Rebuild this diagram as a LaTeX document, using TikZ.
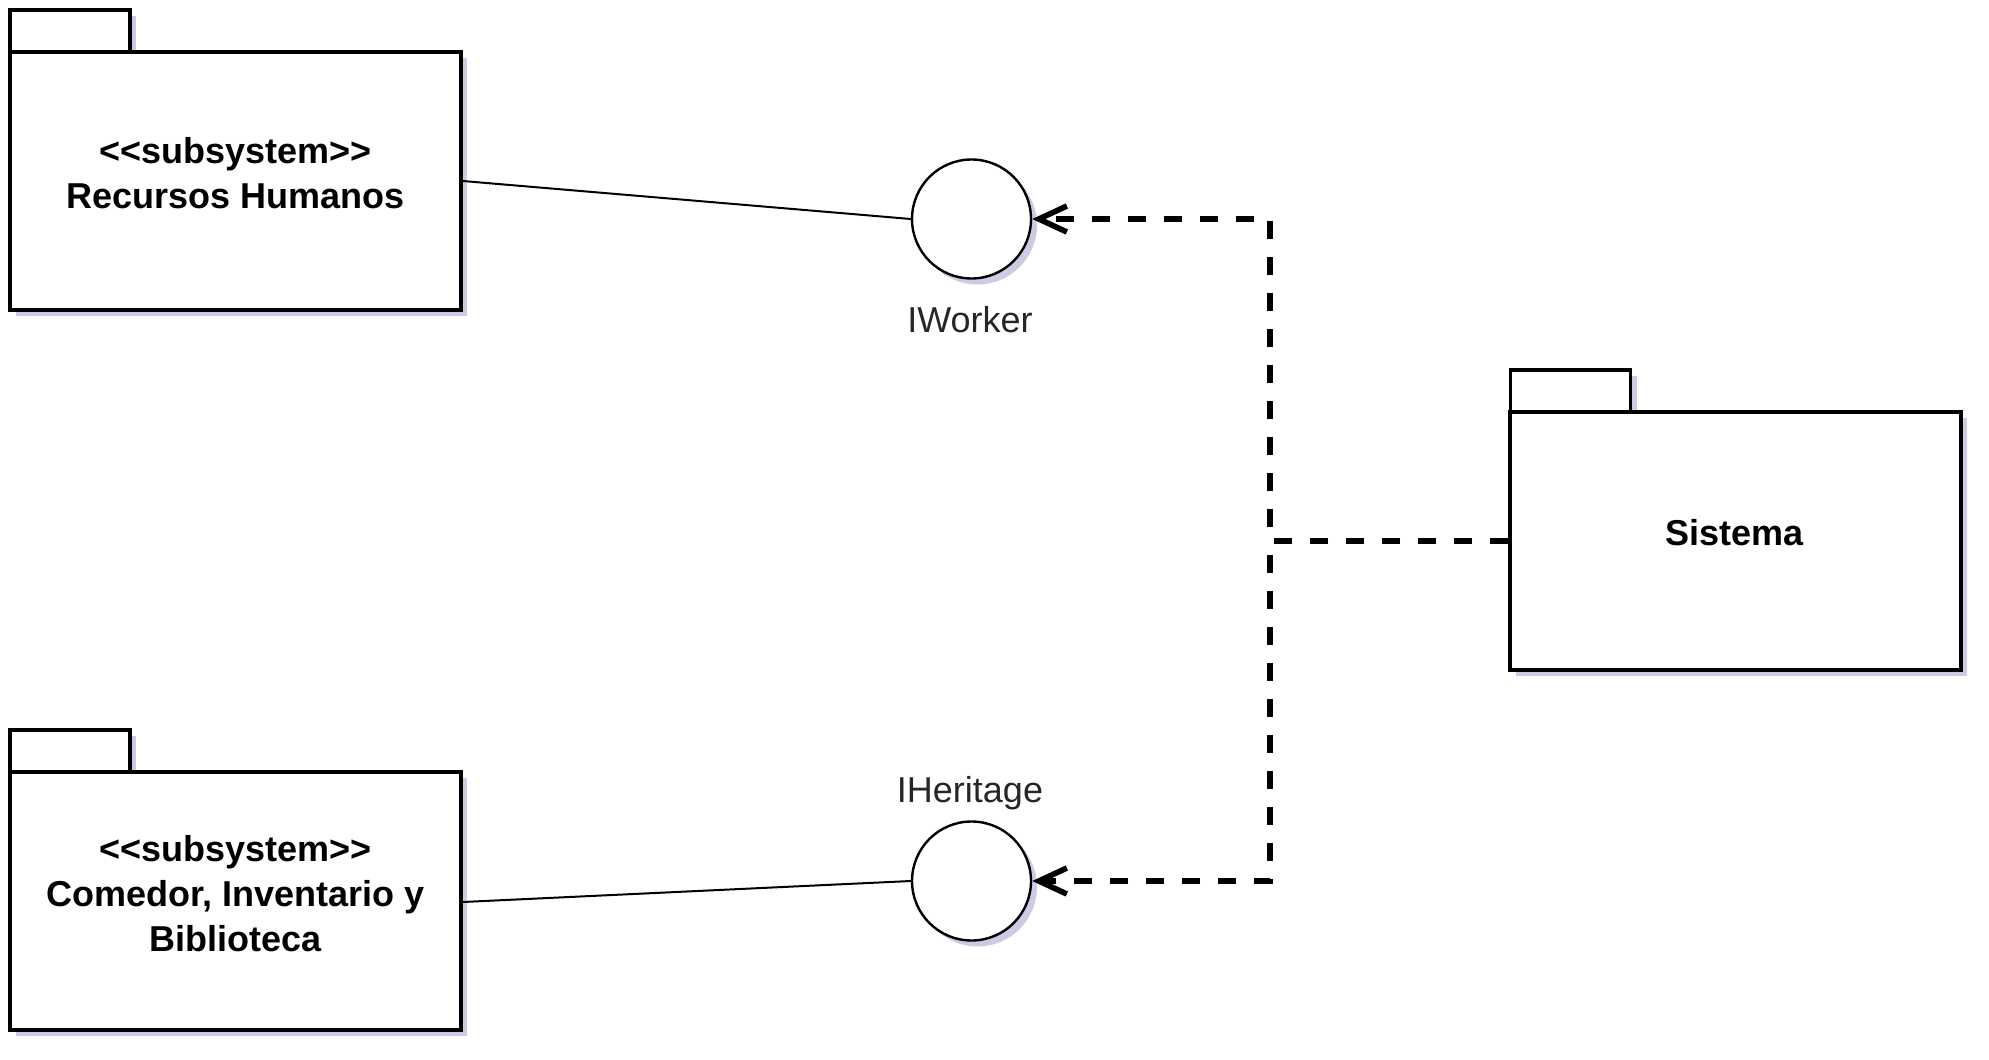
\documentclass[tikz,border=0pt]{standalone}
\usepackage{fontspec}
\setmainfont{Liberation Sans}
\usetikzlibrary{arrows.meta,shadows}
\begin{document}
\begin{tikzpicture}[x=0.5pt,y=-0.5pt,
  shd/.style={drop shadow={shadow xshift=3pt,shadow yshift=-3pt,fill=blue!35!gray,opacity=0.3}},
  pkgtab/.style={draw=black,line width=1.7pt,fill=white,shd,minimum width=60pt,minimum height=21pt,inner sep=0pt},
  pkgbody/.style={draw=black,line width=1.7pt,fill=white,shd,inner sep=0pt},
  iface/.style={circle,draw=black,line width=1.2pt,fill=white,minimum size=59.5pt,inner sep=0pt,shd},
  boldtxt/.style={font=\fontsize{18}{22.5}\selectfont\bfseries,align=center,inner sep=0pt},
  plaintxt/.style={font=\fontsize{18}{21}\selectfont,color=black!85,inner sep=0pt},
  assoc/.style={draw=black,line width=1pt},
  dep/.style={draw=black,line width=2.8pt,dash pattern=on 9pt off 9pt,line cap=butt}
]
\useasboundingbox (0,0) rectangle (1989,1059);

% Recursos Humanos package
\node[pkgtab] (rhtab) at (70,31) {};
\node[pkgbody,minimum width=225.5pt,minimum height=129pt] (rh) at (235.5,181) {};
\node[boldtxt] (rhtxt) at (235.5,173) {<{}<subsystem>{}>\\Recursos Humanos};

% Comedor package
\node[pkgtab] (cotab) at (70,751) {};
\node[pkgbody,minimum width=225.5pt,minimum height=129pt] (co) at (235.5,901) {};
\node[boldtxt] (cotxt) at (235.5,894) {<{}<subsystem>{}>\\Comedor, Inventario y\\Biblioteca};

% Sistema package
\node[pkgtab] (sitab) at (1570.5,391) {};
\node[pkgbody,minimum width=225.5pt,minimum height=129pt] (si) at (1735.5,541) {};
\node[boldtxt] (sitxt) at (1734.5,533) {Sistema};

% Interfaces
\node[iface] (iw) at (971.5,219) {};
\node[plaintxt] (iwl) at (970,320) {IWorker};
\node[iface] (ih) at (971.5,881) {};
\node[plaintxt] (ihl) at (970,793) {IHeritage};

% Associations
\draw[assoc] (rh.east |- 0,181) -- (iw.west);
\draw[assoc] (co.east |- 0,902) -- (ih.west);

% Dependencies
\coordinate (j) at (1270,541);
\draw[dep,-{Straight Barb[length=14pt,width=13pt,line width=2.8pt]}] (si.west) -- (j) |- (iw.east);
\draw[dep,-{Straight Barb[length=14pt,width=13pt,line width=2.8pt]}] (si.west) -- (j) |- (ih.east);
\end{tikzpicture}
\end{document}
